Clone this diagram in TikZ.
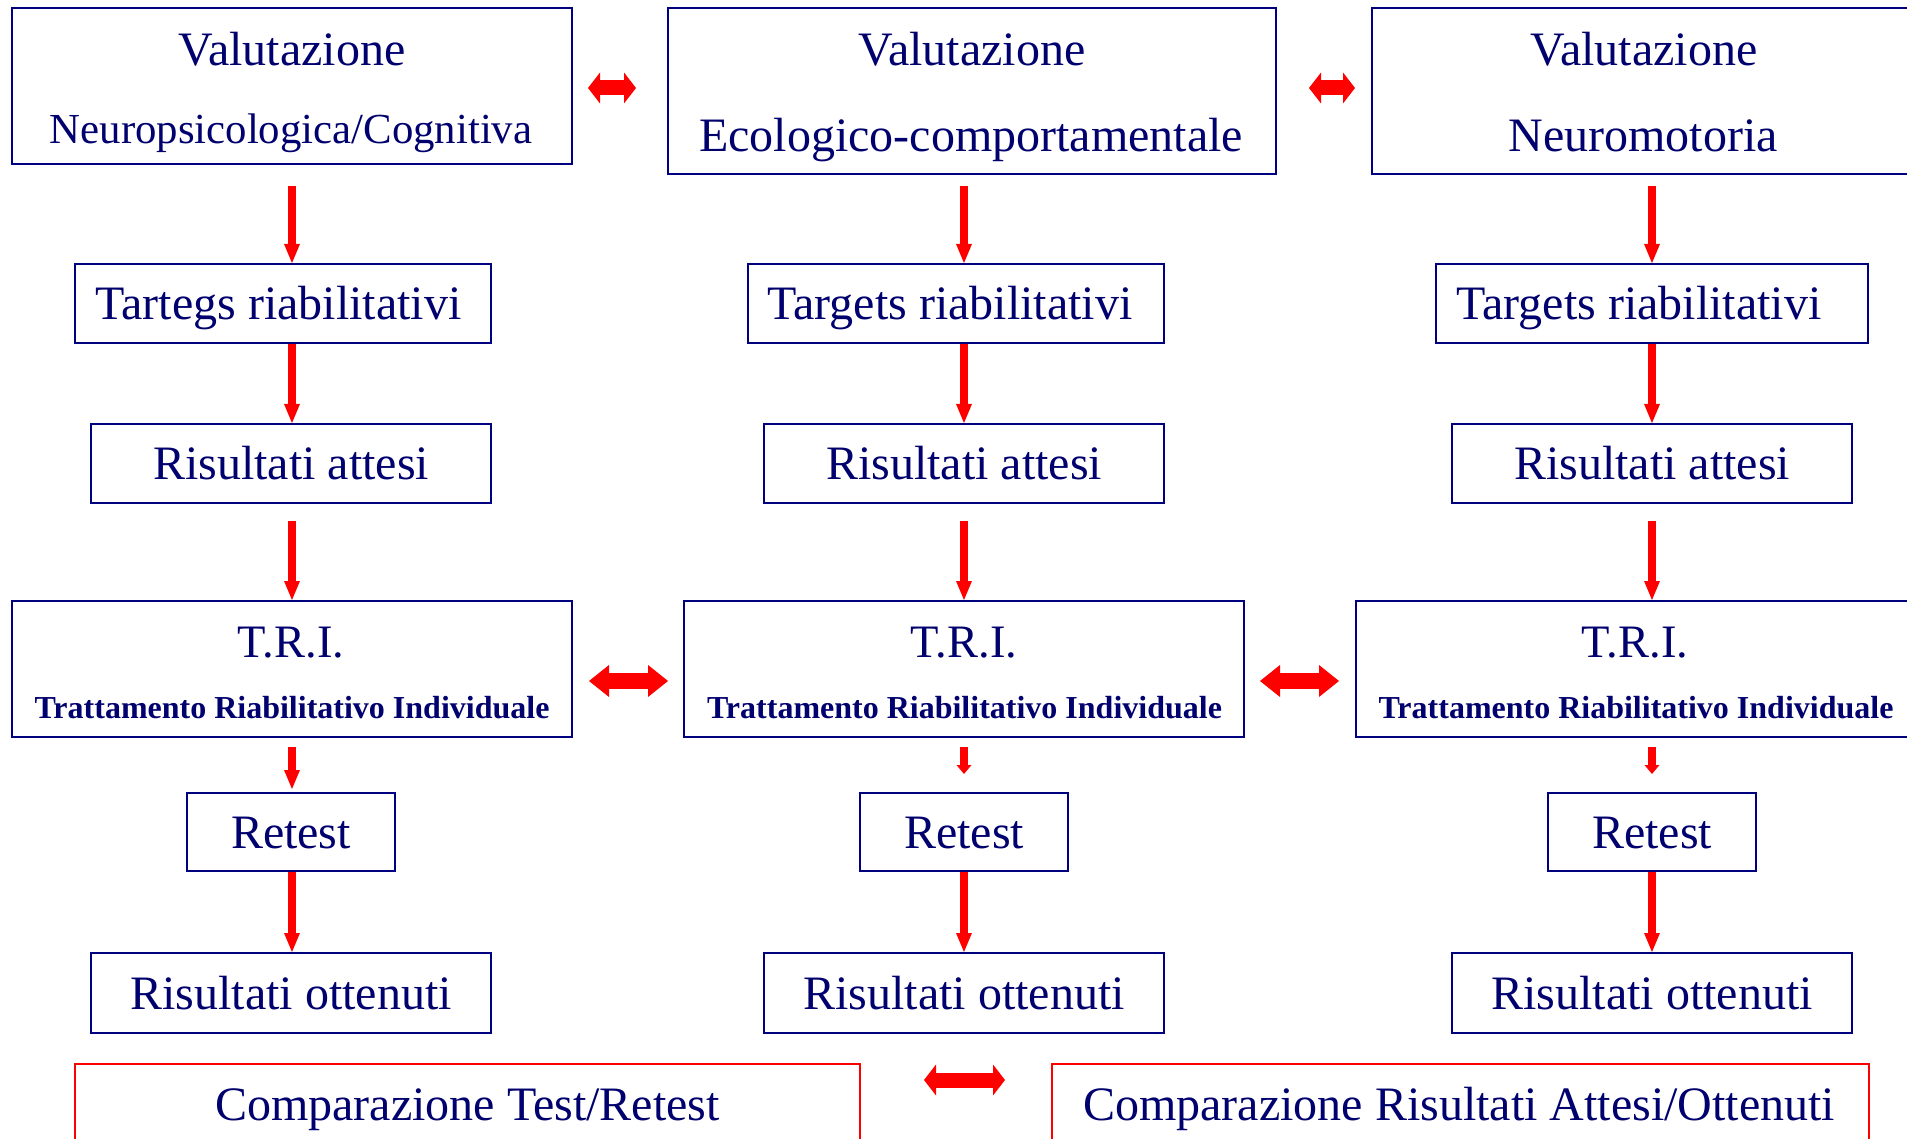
\documentclass[tikz,border=0pt]{standalone}
\usepackage{fontspec}
\setmainfont{Liberation Serif}
\usetikzlibrary{arrows.meta}
\definecolor{navyline}{RGB}{0,0,128}
\definecolor{navytext}{RGB}{0,0,110}
\definecolor{pptred}{RGB}{255,0,0}
\begin{document}
\begin{tikzpicture}[x=1pt,y=1pt,
  box/.style={draw=navyline, line width=2pt, text=navytext, inner sep=0pt,
    font=\fontsize{48}{58}\selectfont, text height=42.7pt, text depth=10.6pt},
  redbox/.style={draw=pptred, line width=1.5pt, inner sep=0pt},
  txt/.style={text=navytext, inner sep=0pt, anchor=base},
  big/.style={font=\fontsize{48}{58}\selectfont},
  small/.style={font=\fontsize{42.8}{51}\selectfont},
  tri/.style={font=\fontsize{46.5}{56}\selectfont},
  boldtxt/.style={font=\fontsize{32}{38}\bfseries\selectfont},
  downarr/.style={draw=pptred, line width=8pt,
    -{Triangle[length=19pt,width=16pt,line width=0pt]}},
  shortarr/.style={draw=pptred, line width=8pt,
    -{Triangle[length=9pt,width=15pt,line width=0pt]}},
  dblarr/.style={draw=pptred, line width=15pt,
    {Triangle[length=12pt,width=31pt,line width=0pt]}-{Triangle[length=12pt,width=31pt,line width=0pt]}},
  dblarrbig/.style={draw=pptred, line width=16pt,
    {Triangle[length=20pt,width=32pt,line width=0pt]}-{Triangle[length=20pt,width=32pt,line width=0pt]}}
]
\useasboundingbox (0,0) rectangle (1907,-1139);
\fill[white] (0,0) rectangle (1907,-1139);
\clip (0,0) rectangle (1907,-1139);

% column axes
\coordinate (k1) at (292,0);
\coordinate (k2) at (964,0);
\coordinate (k3) at (1652,0);

% row 1
\node[box, minimum width=560pt, minimum height=155.5pt] (b1) at (292,-86.25) {};
\node[box, minimum width=608pt, minimum height=165.5pt] (b2) at (972,-91.25) {};
\node[box, minimum width=544pt, minimum height=165.5pt] (b3) at (1644,-91.25) {};
\node[txt, big] (b1a) at (292,-65.5) {Valutazione};
\node[txt, small] (b1b) at (291,-143.5) {Neuropsicologica/Cognitiva};
\node[txt, big] (b2a) at (972,-65.5) {Valutazione};
\node[txt, big] (b2b) at (971,-151.5) {Ecologico-comportamentale};
\node[txt, big] (b3a) at (1644,-65.5) {Valutazione};
\node[txt, big] (b3b) at (1643,-151.5) {Neuromotoria};

% row 2
\node[box, minimum width=416pt, minimum height=79pt] (t1) at (283,-303.5) {};
\node[box, minimum width=416pt, minimum height=79pt] (t2) at (956,-303.5) {};
\node[box, minimum width=432pt, minimum height=79pt] (t3) at (1652,-303.5) {};
\node[txt, big] (t1t) at (278.5,-319.5) {Tartegs riabilitativi};
\node[txt, big] (t2t) at (950,-319.5) {Targets riabilitativi};
\node[txt, big] (t3t) at (1639,-319.5) {Targets riabilitativi};

% row 3
\node[box, minimum width=400pt, minimum height=79pt] (r1) at (291,-463.5) {Risultati attesi};
\node[box, minimum width=400pt, minimum height=79pt] (r2) at (964,-463.5) {Risultati attesi};
\node[box, minimum width=400pt, minimum height=79pt] (r3) at (1652,-463.5) {Risultati attesi};

% row 4
\node[box, minimum width=560pt, minimum height=136pt] (tri1) at (292,-669) {};
\node[box, minimum width=560pt, minimum height=136pt] (tri2) at (964,-669) {};
\node[box, minimum width=560pt, minimum height=136pt] (tri3) at (1636,-669) {};
\node[txt, tri] (tri1a) at (291,-657) {T.R.I.};
\node[txt, boldtxt] (tri1b) at (292,-718) {Trattamento Riabilitativo Individuale};
\node[txt, tri] (tri2a) at (964,-657) {T.R.I.};
\node[txt, boldtxt] (tri2b) at (964.5,-718) {Trattamento Riabilitativo Individuale};
\node[txt, tri] (tri3a) at (1635,-657) {T.R.I.};
\node[txt, boldtxt] (tri3b) at (1636,-718) {Trattamento Riabilitativo Individuale};

% row 5
\node[box, minimum width=208pt, minimum height=78pt] (re1) at (291,-832) {Retest};
\node[box, minimum width=208pt, minimum height=78pt] (re2) at (964,-832) {Retest};
\node[box, minimum width=208pt, minimum height=78pt] (re3) at (1652,-832) {Retest};

% row 6
\node[box, minimum width=400pt, minimum height=80pt] (o1) at (291,-993) {Risultati ottenuti};
\node[box, minimum width=400pt, minimum height=80pt] (o2) at (964,-993) {Risultati ottenuti};
\node[box, minimum width=400pt, minimum height=80pt] (o3) at (1652,-993) {Risultati ottenuti};

% bottom comparison boxes
\node[redbox, minimum width=785pt, minimum height=100pt] (c1) at (467.5,-1114) {};
\node[redbox, minimum width=817pt, minimum height=100pt] (c2) at (1460.5,-1114) {};
\node[txt, big] (c1t) at (467.5,-1120) {Comparazione Test/Retest};
\node[txt, big] (c2t) at (1459,-1120) {Comparazione Risultati Attesi/Ottenuti};

% vertical arrows, column 1
\draw[downarr, shorten <=21pt] (b1.south -| k1) -- (t1.north -| k1);
\draw[downarr] (t1.south -| k1) -- (r1.north -| k1);
\draw[downarr, shorten <=17pt] (r1.south -| k1) -- (tri1.north -| k1);
\draw[downarr, shorten <=9pt, shorten >=3pt] (tri1.south -| k1) -- (re1.north -| k1);
\draw[downarr] (re1.south -| k1) -- (o1.north -| k1);

% vertical arrows, column 2
\draw[downarr, shorten <=11pt] (b2.south -| k2) -- (t2.north -| k2);
\draw[downarr] (t2.south -| k2) -- (r2.north -| k2);
\draw[downarr, shorten <=17pt] (r2.south -| k2) -- (tri2.north -| k2);
\draw[shortarr, shorten <=9pt, shorten >=18pt] (tri2.south -| k2) -- (re2.north -| k2);
\draw[downarr] (re2.south -| k2) -- (o2.north -| k2);

% vertical arrows, column 3
\draw[downarr, shorten <=11pt] (b3.south -| k3) -- (t3.north -| k3);
\draw[downarr] (t3.south -| k3) -- (r3.north -| k3);
\draw[downarr, shorten <=17pt] (r3.south -| k3) -- (tri3.north -| k3);
\draw[shortarr, shorten <=9pt, shorten >=18pt] (tri3.south -| k3) -- (re3.north -| k3);
\draw[downarr] (re3.south -| k3) -- (o3.north -| k3);

% horizontal double arrows
\coordinate (da1l) at (588,-88);   \coordinate (da1r) at (636,-88);
\coordinate (da2l) at (1309,-88);  \coordinate (da2r) at (1355,-88);
\coordinate (da3l) at (589,-681);  \coordinate (da3r) at (668,-681);
\coordinate (da4l) at (1260,-681); \coordinate (da4r) at (1339,-681);
\coordinate (da5l) at (924,-1080); \coordinate (da5r) at (1005,-1080);
\draw[dblarr] (da1l) -- (da1r);
\draw[dblarr] (da2l) -- (da2r);
\draw[dblarrbig] (da3l) -- (da3r);
\draw[dblarrbig] (da4l) -- (da4r);
\draw[dblarr] (da5l) -- (da5r);
\end{tikzpicture}
\end{document}
